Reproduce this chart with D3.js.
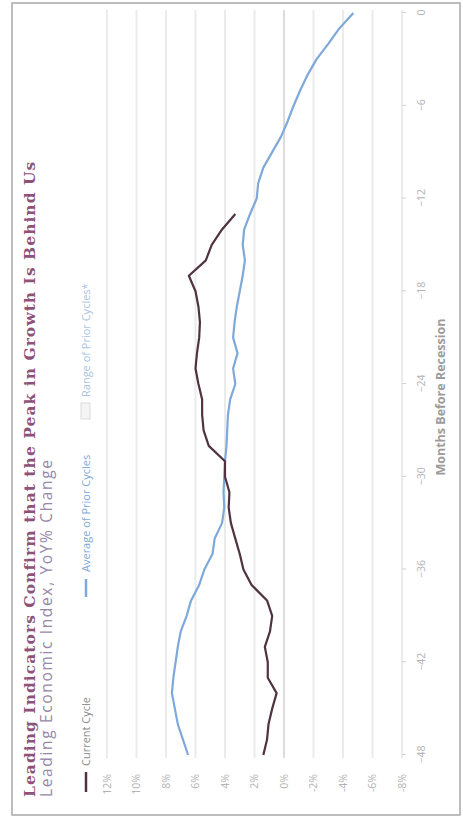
<!DOCTYPE html>
<html>
<head>
<meta charset="utf-8">
<script src="https://cdn.jsdelivr.net/npm/d3@7"></script>
<style>
  html, body { margin: 0; padding: 0; background: #ffffff; }
  svg { display: block; }
</style>
</head>
<body>
<svg id="chart" width="463" height="822"></svg>
<script>
// Months before recession (x axis categories)
const months = [-48, -47, -46, -45, -44, -43, -42, -41, -40, -39, -38, -37, -36, -35, -34, -33,
  -32, -31, -30, -29, -28, -27, -26, -25, -24, -23, -22, -21, -20, -19, -18, -17, -16, -15,
  -14, -13, -12, -11, -10, -9, -8, -7, -6, -5, -4, -3, -2, -1, 0];

// Leading Economic Index YoY % change, average of prior cycles
const averagePrior = [6.5, 6.85, 7.2, 7.4, 7.6, 7.5, 7.35, 7.2, 7.0, 6.6, 6.3, 5.75, 5.4, 4.85,
  4.7, 4.2, 4.05, 4.1, 4.05, 4.0, 3.9, 3.85, 3.8, 3.65, 3.3, 3.45, 3.15, 3.45, 3.35, 3.2, 3.0,
  2.8, 2.65, 2.8, 2.7, 2.3, 1.85, 1.75, 1.4, 0.8, 0.2, -0.25, -0.65, -1.1, -1.6, -2.2, -3.0,
  -3.75, -4.7];

// Current cycle, from -48 months through -13 months
const currentCycle = [1.4, 1.15, 1.05, 0.8, 0.5, 1.1, 1.1, 1.3, 0.95, 0.8, 1.15, 2.2, 2.75, 3.0,
  3.3, 3.6, 3.75, 3.7, 4.0, 4.0, 5.1, 5.45, 5.55, 5.55, 5.8, 6.0, 5.9, 5.75, 5.7, 5.8, 6.0,
  6.45, 5.3, 4.9, 4.2, 3.3];

const monthTicks = [-48, -42, -36, -30, -24, -18, -12, -6, 0];
const pctTicks = [12, 10, 8, 6, 4, 2, 0, -2, -4, -6, -8];

const titleText = "Leading Indicators Confirm that the Peak in Growth Is Behind Us";
const subtitleText = "Leading Economic Index, YoY% Change";
const legendItems = ["Current Cycle", "Average of Prior Cycles", "Range of Prior Cycles*"];
const axisTitle = "Months Before Recession";

const colors = {
  current: "#4f3340",
  average: "#7ea9d8",
  title: "#8c5278",
  subtitle: "#9788a8",
  tick: "#b3b3b3",
  grid: "#ebebeb",
  zero: "#c4c4c4",
  frame: "#a8a8a8"
};

const svg = d3.select("#chart");
const W = 822, H = 463;

// The chart is laid out landscape and turned a quarter turn counter-clockwise.
const g = svg.append("g").attr("transform", `translate(0,${W}) rotate(-90)`);

// Outer frame
g.append("rect")
  .attr("x", 7).attr("y", 12)
  .attr("width", 812).attr("height", 448)
  .attr("fill", "#ffffff")
  .attr("stroke", colors.frame)
  .attr("stroke-width", 1.5);

const x = d3.scaleLinear().domain([-48, 0]).range([67, 809]);
const y = d3.scaleLinear().domain([12, -8]).range([107, 402]);

// Horizontal gridlines
g.append("g").selectAll("line")
  .data(pctTicks.filter(d => d !== 0))
  .join("line")
  .attr("x1", 64).attr("x2", 812)
  .attr("y1", d => y(d)).attr("y2", d => y(d))
  .attr("stroke", colors.grid)
  .attr("stroke-width", 2);

// Zero line
g.append("line")
  .attr("x1", 64).attr("x2", 812)
  .attr("y1", y(0)).attr("y2", y(0))
  .attr("stroke", colors.zero)
  .attr("stroke-width", 1.2);

// Percent axis
const yAxis = g.append("g")
  .attr("transform", "translate(57,0)")
  .call(d3.axisLeft(y).tickValues(pctTicks).tickSize(0).tickPadding(9)
    .tickFormat(d => d + "%"));
yAxis.select(".domain").remove();
yAxis.selectAll("text")
  .attr("fill", colors.tick)
  .attr("font-family", "Open Sans, sans-serif")
  .attr("font-size", 10.5);

// Months axis
const xAxis = g.append("g")
  .attr("transform", "translate(0,402)")
  .call(d3.axisBottom(x).tickValues(monthTicks).tickSize(4).tickPadding(12)
    .tickFormat(d3.format("d")));
xAxis.select(".domain").remove();
xAxis.selectAll(".tick line").attr("stroke", "#d0d0d0");
xAxis.selectAll("text")
  .attr("fill", colors.tick)
  .attr("font-family", "Open Sans, sans-serif")
  .attr("font-size", 10.5);

// Series lines
const line = d3.line()
  .x(d => x(d[0]))
  .y(d => y(d[1]));

g.append("path")
  .datum(months.map((m, i) => [m, averagePrior[i]]))
  .attr("fill", "none")
  .attr("stroke", colors.average)
  .attr("stroke-width", 2.2)
  .attr("stroke-linejoin", "round")
  .attr("d", line);

g.append("path")
  .datum(currentCycle.map((v, i) => [months[i], v]))
  .attr("fill", "none")
  .attr("stroke", colors.current)
  .attr("stroke-width", 2.2)
  .attr("stroke-linejoin", "round")
  .attr("d", line);

// Spread a text element's letters so it runs to a given length
function spreadText(sel, target) {
  const len = sel.node().getComputedTextLength();
  const n = sel.text().length;
  if (n > 1) sel.attr("letter-spacing", Math.max(0, (target - len) / (n - 1)));
}

// Title and subtitle
const title = g.append("text")
  .attr("x", 25).attr("y", 35)
  .attr("font-family", "DejaVu Serif, serif")
  .attr("font-weight", "bold")
  .attr("font-size", 15.5)
  .attr("fill", colors.title)
  .text(titleText);
spreadText(title, 634);

const subtitle = g.append("text")
  .attr("x", 25).attr("y", 52)
  .attr("font-family", "Open Sans, sans-serif")
  .attr("font-size", 15.5)
  .attr("fill", colors.subtitle)
  .text(subtitleText);
spreadText(subtitle, 337);

// Legend
const legend = g.append("g").attr("font-family", "Open Sans, sans-serif").attr("font-size", 11);
legend.append("line")
  .attr("x1", 30).attr("x2", 50).attr("y1", 86).attr("y2", 86)
  .attr("stroke", colors.current).attr("stroke-width", 2.5);
legend.append("text")
  .attr("x", 56).attr("y", 90)
  .attr("fill", "#8a8a8a")
  .text(legendItems[0]);

legend.append("line")
  .attr("x1", 225).attr("x2", 243).attr("y1", 86).attr("y2", 86)
  .attr("stroke", colors.average).attr("stroke-width", 2.5);
legend.append("text")
  .attr("x", 250).attr("y", 90)
  .attr("fill", colors.average)
  .text(legendItems[1]);

legend.append("rect")
  .attr("x", 403).attr("y", 81).attr("width", 16).attr("height", 9)
  .attr("fill", "#f4f4f4").attr("stroke", "#dcdcdc");
legend.append("text")
  .attr("x", 425).attr("y", 90)
  .attr("fill", "#a9c3e3")
  .text(legendItems[2]);

// Axis title
g.append("text")
  .attr("x", 425).attr("y", 445)
  .attr("text-anchor", "middle")
  .attr("font-family", "Open Sans, sans-serif")
  .attr("font-weight", "bold")
  .attr("font-size", 12.5)
  .attr("fill", "#9c9c9c")
  .text(axisTitle);
</script>
</body>
</html>
